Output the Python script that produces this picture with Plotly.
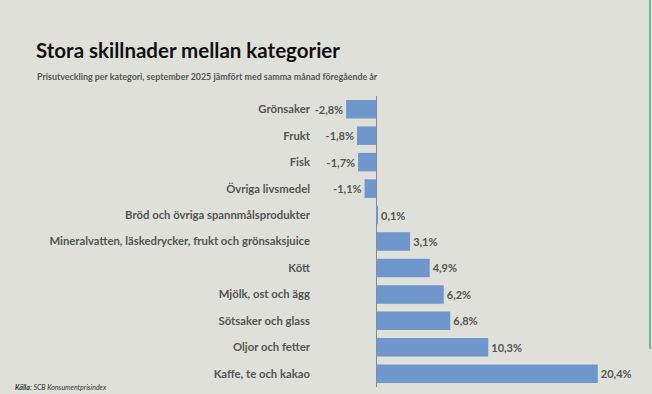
import plotly.graph_objects as go

categories = [
    "Grönsaker",
    "Frukt",
    "Fisk",
    "Övriga livsmedel",
    "Bröd och övriga spannmålsprodukter",
    "Mineralvatten, läskedrycker, frukt och grönsaksjuice",
    "Kött",
    "Mjölk, ost och ägg",
    "Sötsaker och glass",
    "Oljor och fetter",
    "Kaffe, te och kakao",
]
values = [-2.8, -1.8, -1.7, -1.1, 0.1, 3.1, 4.9, 6.2, 6.8, 10.3, 20.4]
labels = [f"{v:.1f}".replace(".", ",") + "%" for v in values]

W, H = 652, 394
L, R, T, B = 315, 12, 96, 7
pw, ph = W - L - R, H - T - B

def px_x(x):
    return (x - L) / pw

def px_y(y):
    return (H - B - y) / ph

BG = "#e0e0db"
TXT = "#555555"
FONT = "Lato"

fig = go.Figure(
    go.Bar(
        x=values,
        y=categories,
        orientation="h",
        marker=dict(color="#6f97cc", line=dict(width=0)),
        text=labels,
        textposition="outside",
        textfont=dict(family=FONT, size=11, color=TXT, weight="bold"),
        cliponaxis=False,
        width=0.7,
    )
)

fig.update_layout(
    width=W,
    height=H,
    margin=dict(l=L, r=R, t=T, b=B),
    paper_bgcolor=BG,
    plot_bgcolor=BG,
    showlegend=False,
    xaxis=dict(
        range=[-5.67, 24.29],
        showgrid=False,
        showticklabels=False,
        zeroline=True,
        zerolinecolor="#8a8a8a",
        zerolinewidth=1,
        fixedrange=True,
    ),
    yaxis=dict(
        autorange="reversed",
        showgrid=False,
        tickfont=dict(family=FONT, size=11.3, color=TXT, weight="bold"),
        ticks="",
        ticklabelstandoff=4,
        fixedrange=True,
    ),
    annotations=[
        dict(
            text="<b>Stora skillnader mellan kategorier</b>",
            xref="paper", yref="paper",
            x=px_x(34), y=px_y(50),
            xanchor="left", yanchor="middle",
            showarrow=False,
            font=dict(family=FONT, size=20.5, color="#111111"),
        ),
        dict(
            text="Prisutveckling per kategori, september 2025 jämfört med samma månad föregående år",
            xref="paper", yref="paper",
            x=px_x(35), y=px_y(76),
            xanchor="left", yanchor="middle",
            showarrow=False,
            font=dict(family=FONT, size=8.9, color=TXT, weight="bold"),
        ),
        dict(
            text="<b><i>Källa:</i></b><i> SCB Konsumentprisindex</i>",
            xref="paper", yref="paper",
            x=px_x(13), y=px_y(387),
            xanchor="left", yanchor="middle",
            showarrow=False,
            font=dict(family=FONT, size=7, color="#333333"),
        ),
    ],
    shapes=[
        dict(
            type="line",
            xref="paper", yref="paper",
            x0=px_x(650), x1=px_x(650),
            y0=px_y(0), y1=px_y(349),
            line=dict(color="#6bb89a", width=2),
        )
    ],
)

fig.write_html(
    "out.html",
    config={"displayModeBar": False},
    post_script="document.body.style.margin='0';document.body.style.padding='0';",
)
